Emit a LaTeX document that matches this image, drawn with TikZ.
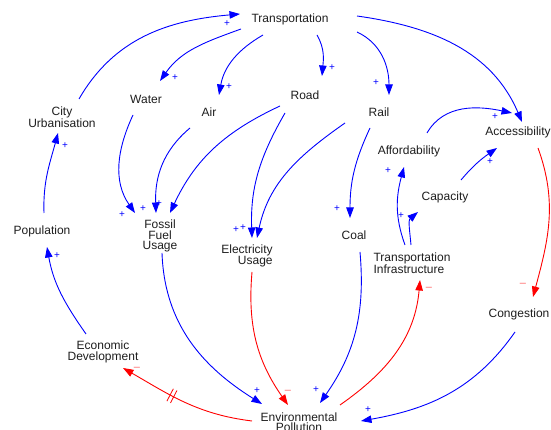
\documentclass[tikz,border=0pt]{standalone}
\usepackage{fontspec}
\setmainfont{Liberation Sans}
\usetikzlibrary{arrows.meta,decorations.markings}
\definecolor{cldblue}{RGB}{0,0,255}
\definecolor{cldred}{RGB}{255,0,0}
\definecolor{cldminus}{RGB}{255,100,100}
\definecolor{cldtext}{RGB}{30,30,30}

\begin{document}
\begin{tikzpicture}[x=1pt,y=1pt,
  var/.style={font=\fontsize{12}{10.5}\selectfont, text=cldtext, inner sep=0pt, align=center},
  plink/.style={draw=cldblue, line width=0.9pt, -{Triangle[length=10.5pt,width=7.5pt]}},
  nlink/.style={draw=cldred, line width=0.9pt, -{Triangle[length=10.5pt,width=7.5pt]}},
  psign/.style={font=\fontsize{10}{10}\selectfont, text=cldblue, inner sep=0pt},
  nsign/.style={font=\fontsize{11}{10}\selectfont, text=cldminus, inner sep=0pt},
  delay/.style={postaction={decorate, decoration={markings,
    mark=at position 0.6 with {\draw[cldred, line width=0.8pt, -] (-2pt,-7pt) -- (-2pt,7pt) (2pt,-7pt) -- (2pt,7pt);}}}}
]
\fill[white] (0,0) rectangle (551,430);
\useasboundingbox (0,0) rectangle (551,430);

% variables
\node[var] (tr) at (290,411) {Transportation};
\node[var] (wa) at (146,331) {Water};
\node[var] (ai) at (209,318) {Air};
\node[var] (ro) at (305,335) {Road};
\node[var] (ra) at (379,318) {Rail};
\node[var] (cu) at (62,313) {City\\Urbanisation};
\node[var] (ac) at (518,298) {Accessibility};
\node[var] (af) at (409,279) {Affordability};
\node[var] (ca) at (445,233) {Capacity};
\node[var] (po) at (42,199) {Population};
\node[var] (ff) at (160,194) {Fossil\\Fuel\\Usage};
\node[var, align=right] (el) at (247,174) {Electricity\\Usage};
\node[var] (co) at (354,195) {Coal};
\node[var, align=left] (ti) at (412,167) {Transportation\\Infrastructure};
\node[var] (cg) at (519,116) {Congestion};
\node[var] (ed) at (103,78) {Economic\\Development};
\node[var] (ep) at (299,8) {Environmental\\Pollution};

% links out of Transportation
\draw[plink] ([shift={(-49,-10)}]tr.center) to[out=200,in=55] node[psign,pos=1,shift={(15,3)}]{+} ([shift={(14,18)}]wa.center);
\draw[plink] ([shift={(-27,-16)}]tr.center) to[out=210,in=80] node[psign,pos=1,shift={(10,8)}]{+} ([shift={(10,17)}]ai.center);
\draw[plink] ([shift={(27,-16)}]tr.center) to[out=-60,in=85] node[psign,pos=1,shift={(10,8)}]{+} ([shift={(17,19)}]ro.center);
\draw[plink] ([shift={(67,-13)}]tr.center) to[out=-25,in=90] node[psign,pos=1,shift={(-13,12)}]{+} ([shift={(10,17)}]ra.center);
\draw[plink] ([shift={(67,3)}]tr.center) to[out=-8,in=113] ([shift={(4,10)}]ac.center);

% accessibility side
\draw[plink] ([shift={(18,18)}]af.center) to[out=60,in=168] node[psign,pos=1,shift={(-17,-4)}]{+} ([shift={(-6,19)}]ac.center);
\draw[plink] ([shift={(16,17)}]ca.center) to[out=50,in=215] node[psign,pos=1,shift={(-7,-14)}]{+} ([shift={(-21,-16)}]ac.center);
\draw[plink] ([shift={(-7,18)}]ti.center) to[out=110,in=255] node[psign,pos=1,shift={(-16,-4)}]{+} ([shift={(-5,-16)}]af.center);
\draw[plink] ([shift={(-1,18)}]ti.center) to[out=95,in=220] node[psign,pos=1,shift={(-17,-4)}]{+} ([shift={(-27,-15)}]ca.center);
\draw[nlink] ([shift={(20,-16)}]ac.center) to[out=-70,in=75] node[nsign,pos=1,shift={(-10,12)}]{–} ([shift={(14,17)}]cg.center);
\draw[plink] ([shift={(-4,-18)}]cg.center) to[out=235,in=10] node[psign,pos=1,shift={(7,11)}]{+} ([shift={(62,1)}]ep.center);

% rail and road
\draw[plink] ([shift={(-9,-16)}]ra.center) to[out=245,in=90] node[psign,pos=1,shift={(-13,9)}]{+} ([shift={(-4,17)}]co.center);
\draw[plink] ([shift={(-34,-11)}]ra.center) to[out=215,in=78] node[psign,pos=1,shift={(-14,10)}]{+} ([shift={(10,18)}]el.center);
\draw[plink] ([shift={(-20,-18)}]ro.center) to[out=240,in=92] node[psign,pos=1,shift={(-16,8)}]{+} ([shift={(5,18)}]el.center);
\draw[plink] ([shift={(-25,-11)}]ro.center) to[out=205,in=65] node[psign,pos=1,shift={(-11,9)}]{+} ([shift={(10,23)}]ff.center);
\draw[plink] ([shift={(-13,-16)}]wa.center) to[out=245,in=125] node[psign,pos=1,shift={(-13,-2)}]{+} ([shift={(-25,23)}]ff.center);
\draw[plink] ([shift={(-19,-16)}]ai.center) to[out=220,in=92] node[psign,pos=1,shift={(-13,4)}]{+} ([shift={(-4,23)}]ff.center);

% into pollution
\draw[plink] ([shift={(6,-17)}]co.center) to[out=-85,in=55] node[psign,pos=1,shift={(-4,13)}]{+} ([shift={(21,19)}]ep.center);
\draw[plink] ([shift={(2,-17)}]ff.center) to[out=-88,in=148] node[psign,pos=1,shift={(-5,13)}]{+} ([shift={(-37,18)}]ep.center);
\draw[nlink] ([shift={(5,-16)}]el.center) to[out=-95,in=125] node[nsign,pos=1,shift={(0,13)}]{–} ([shift={(-11,17)}]ep.center);

% out of pollution
\draw[nlink] ([shift={(41,17)}]ep.center) to[out=35,in=-95] node[nsign,pos=1,shift={(9,-9)}]{–} ([shift={(8,-17)}]ti.center);
\draw[nlink, delay] ([shift={(-47,1)}]ep.center) to[out=173,in=-30] node[nsign,pos=1,shift={(14,-1)}]{–} ([shift={(20,-16)}]ed.center);

% left loop
\draw[plink] ([shift={(-17,18)}]ed.center) to[out=125,in=-80] node[psign,pos=1,shift={(10,-9)}]{+} ([shift={(5,-16)}]po.center);
\draw[plink] ([shift={(2,18)}]po.center) to[out=92,in=-105] node[psign,pos=1,shift={(7,-13)}]{+} ([shift={(-4,-16)}]cu.center);
\draw[plink] ([shift={(17,18)}]cu.center) to[out=60,in=185] node[psign,pos=1,shift={(-13,-10)}]{+} ([shift={(-50,5)}]tr.center);
\end{tikzpicture}
\end{document}
